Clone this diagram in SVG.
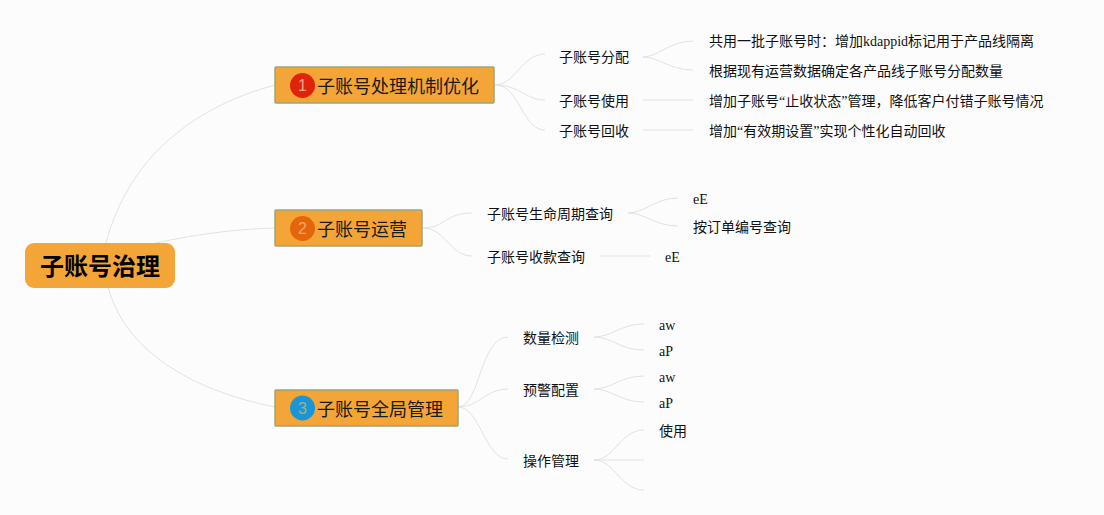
<svg xmlns="http://www.w3.org/2000/svg" width="1104" height="515" viewBox="0 0 1104 515">
<style>
text{font-family:"Liberation Serif","Noto Sans CJK SC",serif;fill:#111}
.l{font-size:14px}
.t{font-size:18px;fill:#1a1a1a}
.r{font-size:24px;font-weight:700;fill:#000}
.b{fill:#f4a537;stroke:#9aa57a;stroke-width:1.5}
.n{font-family:"Liberation Sans",sans-serif;font-size:16px;text-anchor:middle}
#connectors path{fill:none;stroke:#e2e2e2;stroke-width:1}
</style>
<rect width="1104" height="515" fill="#fcfcfc"/>
<g id="connectors">
<path d="M106 243C128 160 190 108 275 85"/>
<path d="M155 243C190 236 230 229 275 228"/>
<path d="M108 287C125 350 190 390 275 407"/>
<path d="M495 85C515 85 522 54 545 54"/>
<path d="M495 85C520 85 525 100 545 100"/>
<path d="M495 85C520 85 522 130 545 130"/>
<path d="M643 57C658 57 670 41 693 41"/>
<path d="M643 57C658 57 670 70 693 70"/>
<path d="M643 100H693"/>
<path d="M643 130H693"/>
<path d="M423 228C445 228 445 213 472 213"/>
<path d="M423 228C445 228 450 256 472 256"/>
<path d="M628 213C645 213 655 198 678 198"/>
<path d="M628 213C645 213 655 226 678 226"/>
<path d="M600 256H650"/>
<path d="M458 407C480 407 480 337 508 337"/>
<path d="M458 407C480 407 485 389 508 389"/>
<path d="M458 407C480 407 485 459 508 459"/>
<path d="M594 337C612 337 620 324 644 324"/>
<path d="M594 337C612 337 620 350 644 350"/>
<path d="M594 389C612 389 620 376 644 376"/>
<path d="M594 389C612 389 620 402 644 402"/>
<path d="M594 460C615 460 620 430 644 430"/>
<path d="M594 460H644"/>
<path d="M594 460C615 460 620 490 644 490"/>
</g>
<g id="root"><rect x="25" y="243" width="150" height="45" rx="9" fill="#f4a537"/><text class="r" x="40" y="275">子账号治理</text></g>
<g id="topic1"><rect class="b" x="275" y="67" width="219" height="36" rx="1"/><circle cx="302.500" cy="85.500" r="12.500" fill="#e0230a"/><text class="n" x="302.500" y="91" style="fill:#f2a58c">1</text><text class="t" x="317" y="93">子账号处理机制优化</text></g>
<g id="topic2"><rect class="b" x="275" y="210" width="147" height="36" rx="1"/><circle cx="302.500" cy="228.500" r="12.500" fill="#e5650c"/><text class="n" x="302.500" y="234" style="fill:#f0a860">2</text><text class="t" x="317" y="236">子账号运营</text></g>
<g id="topic3"><rect class="b" x="275" y="390" width="183" height="36" rx="1"/><circle cx="302.500" cy="408" r="12.500" fill="#1c95d8"/><text class="n" x="302.500" y="414" style="fill:#a0b080">3</text><text class="t" x="317" y="416">子账号全局管理</text></g>
<g id="n1"><text class="l" x="559" y="62">子账号分配</text></g>
<g id="n2"><text class="l" x="559" y="106">子账号使用</text></g>
<g id="n3"><text class="l" x="559" y="136">子账号回收</text></g>
<g id="n4"><text class="l" x="709" y="46">共用一批子账号时：增加kdappid标记用于产品线隔离</text></g>
<g id="n5"><text class="l" x="709" y="76">根据现有运营数据确定各产品线子账号分配数量</text></g>
<g id="n6"><text class="l" x="709" y="106">增加子账号“止收状态”管理，降低客户付错子账号情况</text></g>
<g id="n7"><text class="l" x="709" y="136">增加“有效期设置”实现个性化自动回收</text></g>
<g id="n8"><text class="l" x="487" y="219">子账号生命周期查询</text></g>
<g id="n9"><text class="l" x="487" y="262">子账号收款查询</text></g>
<g id="n10"><text class="l" x="693" y="204">eE</text></g>
<g id="n11"><text class="l" x="693" y="232">按订单编号查询</text></g>
<g id="n12"><text class="l" x="665" y="262">eE</text></g>
<g id="n13"><text class="l" x="523" y="343">数量检测</text></g>
<g id="n14"><text class="l" x="523" y="395">预警配置</text></g>
<g id="n15"><text class="l" x="523" y="466">操作管理</text></g>
<g id="n16"><text class="l" x="659" y="330">aw</text></g>
<g id="n17"><text class="l" x="659" y="356">aP</text></g>
<g id="n18"><text class="l" x="659" y="382">aw</text></g>
<g id="n19"><text class="l" x="659" y="408">aP</text></g>
<g id="n20"><text class="l" x="659" y="436">使用</text></g>
</svg>
